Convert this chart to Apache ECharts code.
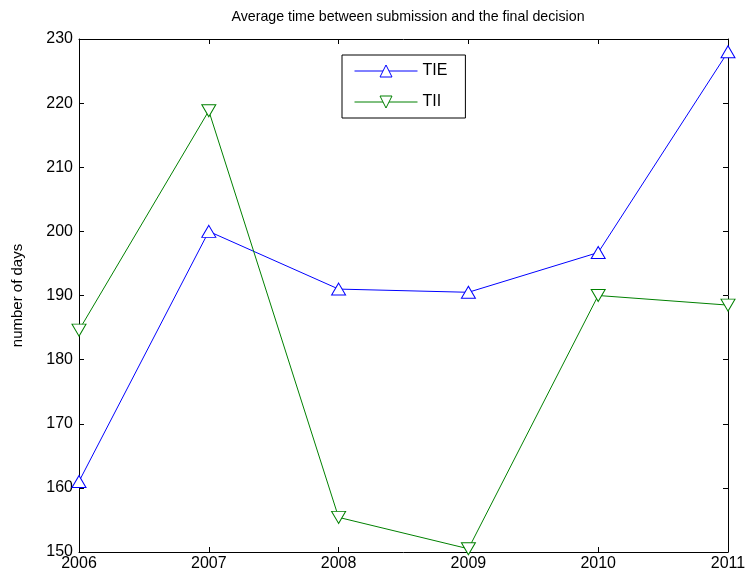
<!DOCTYPE html>
<html>
<head>
<meta charset="utf-8">
<script src="https://cdn.jsdelivr.net/npm/echarts@6/dist/echarts.min.js"></script>
<style>html,body{margin:0;padding:0;background:#fff}#c{width:751px;height:586px}</style>
</head>
<body>
<div id="c"></div>
<script>
var years = [2006, 2007, 2008, 2009, 2010, 2011];
var tie = [161, 200, 191, 190.5, 196.7, 228];
var tii = [184.6, 218.8, 155.4, 150.5, 190, 188.5];
var yTicks = [150, 160, 170, 180, 190, 200, 210, 220, 230];

function pairs(v){ return years.map(function(y,i){ return [y, v[i]]; }); }

var chart = echarts.init(document.getElementById('c'));
var font = 'Liberation Sans, Arial, sans-serif';
var axisCommon = {
  axisLine: {show: true, onZero: false, lineStyle: {color: '#000', width: 1}},
  axisTick: {show: true, inside: true, length: 5, lineStyle: {color: '#000'}},
  splitLine: {show: false}
};
chart.setOption({
  animation: false,
  title: {text: 'Average time between submission and the final decision', left: 403, textAlign: 'center', top: 5,
    textStyle: {fontFamily: font, fontSize: 14.2, fontWeight: 'normal', color: '#000'}},
  grid: {left: 79, right: 23, top: 39, bottom: 34},
  legend: {
    data: ['TIE', 'TII'], orient: 'vertical', left: 342, top: 55,
    itemWidth: 63, itemHeight: 15, itemGap: 15,
    padding: [8, 18, 8, 12], borderColor: '#000', borderWidth: 1, backgroundColor: '#fff',
    textStyle: {fontFamily: font, fontSize: 16, color: '#000'},
    lineStyle: {width: 1},
    itemStyle: {color: '#fff', borderWidth: 1}
  },
  xAxis: [
    Object.assign({type: 'value', min: 2006, max: 2011, interval: 1, position: 'bottom',
      axisLabel: {fontFamily: font, fontSize: 16, color: '#000', margin: 4, formatter: function(v){return String(v);}}}, axisCommon),
    Object.assign({type: 'value', min: 2006, max: 2011, interval: 1, position: 'top',
      axisLabel: {show: false}}, axisCommon)
  ],
  yAxis: [
    Object.assign({type: 'value', min: 150, max: 230, interval: 10, position: 'left',
      name: 'number of days', nameLocation: 'middle', nameGap: 54, nameRotate: 90,
      nameTextStyle: {fontFamily: font, fontSize: 15, color: '#000'},
      axisLabel: {fontFamily: font, fontSize: 16, color: '#000', margin: 6,
        formatter: function(v){ return yTicks.indexOf(v) >= 0 ? String(v) : ''; }}}, axisCommon),
    Object.assign({type: 'value', min: 150, max: 230, interval: 10, position: 'right',
      axisLabel: {show: false}}, axisCommon)
  ],
  series: [
    {name: 'TIE', type: 'line', data: pairs(tie), symbol: 'triangle', symbolSize: [14, 12],
      itemStyle: {color: '#fff', borderColor: '#0000ff', borderWidth: 1},
      lineStyle: {color: '#0000ff', width: 1}, color: '#0000ff'},
    {name: 'TII', type: 'line', data: pairs(tii), symbol: 'triangle', symbolRotate: 180, symbolSize: [14, 12],
      itemStyle: {color: '#fff', borderColor: '#008000', borderWidth: 1},
      lineStyle: {color: '#008000', width: 1}, color: '#008000'}
  ]
});
</script>
</body>
</html>
